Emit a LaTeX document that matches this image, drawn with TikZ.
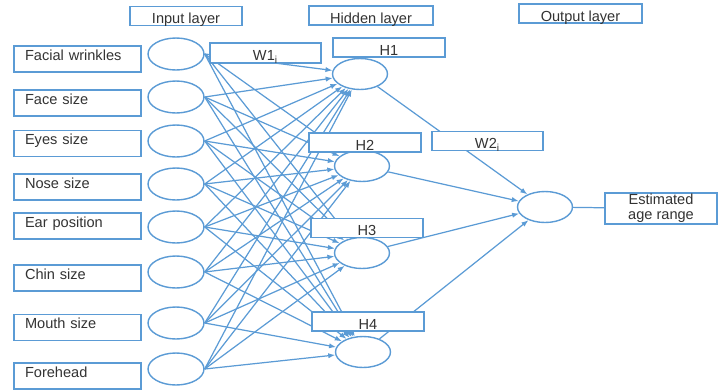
\documentclass[tikz,border=0pt]{standalone}
\usepackage{fontspec}
\setmainfont{Liberation Sans}
\usetikzlibrary{arrows.meta, shapes.geometric}
\definecolor{nnblue}{HTML}{5B9BD5}
\definecolor{txtgray}{HTML}{333333}

\tikzset{
  neuron/.style={draw=nnblue, line width=0.8pt, ellipse, fill=white, inner sep=0pt,
                 minimum width=1.1cm, minimum height=0.62cm},
  featbox/.style={draw=nnblue, line width=0.8pt, fill=white, text=txtgray,
                  font=\fontsize{8.3}{10}\selectfont, align=left, text width=2.1cm,
                  inner xsep=0.22cm, inner ysep=0pt, text height=8.2pt, text depth=6.6pt},
  tagbox/.style={draw=nnblue, line width=0.8pt, fill=white, text=txtgray,
                 font=\fontsize{8.3}{10}\selectfont, minimum width=2.24cm,
                 minimum height=0.38cm, inner sep=0pt, text height=9pt, text depth=0pt},
  link/.style={nnblue, line width=0.7pt, -{Latex[length=4pt, width=3pt]}}
}

\begin{document}
\begin{tikzpicture}[x=0.02cm, y=-0.02cm]

\useasboundingbox (0,0) rectangle (726,389);

% Layer titles
\node[tagbox] (inlayer) at (186,16) {Input layer};
\node[tagbox, minimum width=2.48cm] (hidlayer) at (371,15.5) {Hidden layer};
\node[tagbox, minimum width=2.46cm] (outlayer) at (580.5,13.5) {Output layer};

% Input features
\node[featbox] (f1) at (77.5,59) {Facial wrinkles};
\node[featbox] (f2) at (77.5,103) {Face size};
\node[featbox] (f3) at (77.5,143.5) {Eyes size};
\node[featbox] (f4) at (77.5,187) {Nose size};
\node[featbox] (f5) at (77.5,226) {Ear position};
\node[featbox] (f6) at (77.5,278) {Chin size};
\node[featbox] (f7) at (77.5,327.5) {Mouth size};
\node[featbox] (f8) at (77.5,376) {Forehead};

% Input neurons
\node[neuron, minimum width=1.12cm, minimum height=0.64cm] (in1) at (176,54) {};
\node[neuron, minimum width=1.12cm, minimum height=0.64cm] (in2) at (176,97) {};
\node[neuron, minimum width=1.12cm, minimum height=0.64cm] (in3) at (176,141) {};
\node[neuron, minimum width=1.12cm, minimum height=0.64cm] (in4) at (176,184) {};
\node[neuron, minimum width=1.12cm, minimum height=0.64cm] (in5) at (176,227) {};
\node[neuron, minimum width=1.12cm, minimum height=0.64cm] (in6) at (176,272) {};
\node[neuron, minimum width=1.12cm, minimum height=0.64cm] (in7) at (176,323) {};
\node[neuron, minimum width=1.12cm, minimum height=0.64cm] (in8) at (176,369) {};

% Hidden neurons
\node[neuron] (h1) at (360,74) {};
\node[neuron] (h2) at (362,166) {};
\node[neuron] (h3) at (362,253) {};
\node[neuron] (h4) at (363,352) {};

% Output neuron and result
\node[neuron] (out) at (545,207) {};
\node[tagbox, minimum height=0.62cm, align=center, text height=, text depth=,
      font=\fontsize{8.3}{8.6}\selectfont] (age) at (661,208.5)
     {Estimated\\age range};

% Weights input -> hidden
\foreach \i in {1,...,8}
  \foreach \j in {1,...,4}
    \draw[link] (in\i.east) -- (h\j);

% Weights hidden -> output
\foreach \j in {1,...,4}
  \draw[link] (h\j) -- (out);

\draw[nnblue, line width=0.7pt] (out) -- (age);

% Weight and hidden labels (on top of the links)
\node[tagbox, minimum width=2.22cm, minimum height=0.4cm] (w1) at (265.5,53) {W1\textsubscript{i}};
\node[tagbox, minimum width=2.22cm] (w2) at (487.5,141) {W2\textsubscript{i}};
\node[tagbox] (lh1) at (389,47.5) {H1};
\node[tagbox] (lh2) at (365,142.5) {H2};
\node[tagbox] (lh3) at (367,228) {H3};
\node[tagbox] (lh4) at (368,321.5) {H4};

\end{tikzpicture}
\end{document}
